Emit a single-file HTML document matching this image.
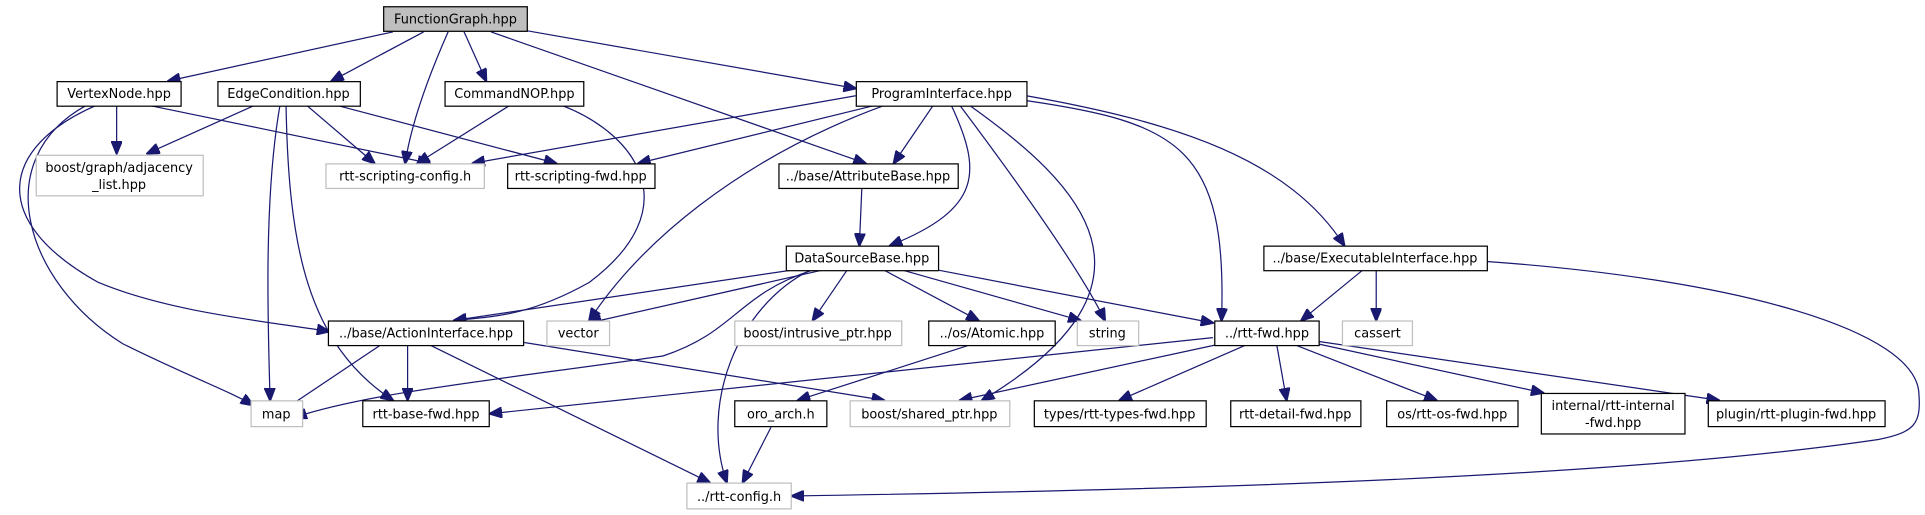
<!DOCTYPE html>
<html><head><meta charset="utf-8"><style>
html,body{margin:0;padding:0;background:#fff;}
svg{display:block;}
text{font-family:"DejaVu Sans","Liberation Sans",sans-serif;font-size:10.5px;fill:#000;}
.b{fill:#fff;stroke:#000;stroke-width:1;}
.g{fill:#fff;stroke:#bfbfbf;stroke-width:1;}
path{fill:none;stroke:#191970;stroke-width:1;}
</style></head><body>
<svg width="1925" height="515" viewBox="0 0 1568 419.5" xmlns="http://www.w3.org/2000/svg">
<defs><marker id="a" markerWidth="11" markerHeight="9" refX="10" refY="4.5" orient="auto" markerUnits="userSpaceOnUse"><polygon points="0,0 11,4.5 0,9" fill="#191970" stroke="#191970"/></marker></defs>
<g marker-end="url(#a)">
<path d="M320,26 L137,66"/>
<path d="M345,26 L270,66"/>
<path d="M365,26 C350,60 335,100 330,133"/>
<path d="M378,26 L396,66"/>
<path d="M400,26 L705,133"/>
<path d="M429,25 L697,72"/>
<path d="M95,86 L95,125"/>
<path d="M122,86 L350,133"/>
<path d="M78,86 C0,120 -10,180 80,230 C140,255 220,262 268,270"/>
<path d="M70,86 C-10,130 20,230 100,280 C150,305 190,320 206,330"/>
<path d="M207,86 L120,125"/>
<path d="M250,86 L305,133"/>
<path d="M275,86 L453,133"/>
<path d="M228,86 C215,160 218,260 220,326"/>
<path d="M233,86 C235,200 250,280 320,326"/>
<path d="M415,86 L340,133"/>
<path d="M458,86 C520,110 560,170 480,230 C430,258 400,258 370,261"/>
<path d="M697,78 L385,133"/>
<path d="M712,86 L520,133"/>
<path d="M760,86 L728,133"/>
<path d="M775,86 C800,140 800,170 725,200"/>
<path d="M720,86 C600,130 520,200 480,261"/>
<path d="M782,86 C830,150 880,220 900,261"/>
<path d="M790,86 C880,150 960,230 800,326"/>
<path d="M836,82 C960,100 1000,120 995,261"/>
<path d="M836,78 C960,100 1050,130 1095,200"/>
<path d="M702,153 L700,200"/>
<path d="M645,220 L370,261"/>
<path d="M670,220 L480,263"/>
<path d="M662,220 C600,240 600,270 540,290 C400,310 300,320 240,340"/>
<path d="M690,220 L662,261"/>
<path d="M720,220 L797,261"/>
<path d="M735,220 L880,261"/>
<path d="M764,220 L988,263"/>
<path d="M660,220 C600,250 570,330 592,393"/>
<path d="M1110,220 L1060,261"/>
<path d="M1121,220 L1121,261"/>
<path d="M1211,213 C1420,228 1560,270 1563,320 C1565,345 1560,352 1530,358 C1300,392 900,400 645,404"/>
<path d="M310,281 L222,340"/>
<path d="M332,281 L332,326"/>
<path d="M350,281 L578,393"/>
<path d="M427,279 L720,326"/>
<path d="M790,281 L650,326"/>
<path d="M628,348 L605,393"/>
<path d="M988,275 L399,337"/>
<path d="M990,281 L782,326"/>
<path d="M1015,281 L912,326"/>
<path d="M1040,281 L1048,326"/>
<path d="M1055,281 L1170,326"/>
<path d="M1073,280 L1257,320"/>
<path d="M1073,278 L1400,326"/>
</g>
<rect x="312.5" y="5.5" width="117" height="20" fill="#bfbfbf" stroke="#000"/><text x="371" y="19" text-anchor="middle">FunctionGraph.hpp</text>
<rect class="b" x="46.5" y="66.5" width="101" height="20"/><text x="97" y="80" text-anchor="middle">VertexNode.hpp</text>
<rect class="b" x="177.5" y="66.5" width="116" height="20"/><text x="235" y="80" text-anchor="middle">EdgeCondition.hpp</text>
<rect class="b" x="362.5" y="66.5" width="113" height="20"/><text x="419" y="80" text-anchor="middle">CommandNOP.hpp</text>
<rect class="b" x="697.5" y="66.5" width="139" height="20"/><text x="767" y="80" text-anchor="middle">ProgramInterface.hpp</text>
<rect class="g" x="29.5" y="126.5" width="136" height="33"/><text x="97" y="140" text-anchor="middle">boost/graph/adjacency</text><text x="97" y="154" text-anchor="middle">_list.hpp</text>
<rect class="g" x="265.5" y="133.5" width="129" height="20"/><text x="330" y="147" text-anchor="middle">rtt-scripting-config.h</text>
<rect class="b" x="413.5" y="133.5" width="120" height="20"/><text x="473" y="147" text-anchor="middle">rtt-scripting-fwd.hpp</text>
<rect class="b" x="634.5" y="133.5" width="146" height="20"/><text x="707" y="147" text-anchor="middle">../base/AttributeBase.hpp</text>
<rect class="b" x="640.5" y="200.5" width="124" height="20"/><text x="702" y="214" text-anchor="middle">DataSourceBase.hpp</text>
<rect class="b" x="1029.5" y="200.5" width="182" height="20"/><text x="1120" y="214" text-anchor="middle">../base/ExecutableInterface.hpp</text>
<rect class="b" x="267.5" y="261.5" width="159" height="20"/><text x="347" y="275" text-anchor="middle">../base/ActionInterface.hpp</text>
<rect class="g" x="445.5" y="261.5" width="51" height="20"/><text x="471" y="275" text-anchor="middle">vector</text>
<rect class="g" x="598.5" y="261.5" width="136" height="20"/><text x="666" y="275" text-anchor="middle">boost/intrusive_ptr.hpp</text>
<rect class="b" x="756.5" y="261.5" width="103" height="20"/><text x="808" y="275" text-anchor="middle">../os/Atomic.hpp</text>
<rect class="g" x="877.5" y="261.5" width="50" height="20"/><text x="902" y="275" text-anchor="middle">string</text>
<rect class="b" x="989.5" y="261.5" width="85" height="20"/><text x="1032" y="275" text-anchor="middle">../rtt-fwd.hpp</text>
<rect class="g" x="1093.5" y="261.5" width="57" height="20"/><text x="1122" y="275" text-anchor="middle">cassert</text>
<rect class="g" x="204.5" y="326.5" width="42" height="21"/><text x="225" y="341" text-anchor="middle">map</text>
<rect class="b" x="295.5" y="326.5" width="103" height="21"/><text x="347" y="341" text-anchor="middle">rtt-base-fwd.hpp</text>
<rect class="b" x="598.5" y="326.5" width="75" height="21"/><text x="636" y="341" text-anchor="middle">oro_arch.h</text>
<rect class="g" x="692.5" y="326.5" width="130" height="21"/><text x="757" y="341" text-anchor="middle">boost/shared_ptr.hpp</text>
<rect class="b" x="842.5" y="326.5" width="140" height="21"/><text x="912" y="341" text-anchor="middle">types/rtt-types-fwd.hpp</text>
<rect class="b" x="1002.5" y="326.5" width="106" height="21"/><text x="1055" y="341" text-anchor="middle">rtt-detail-fwd.hpp</text>
<rect class="b" x="1129.5" y="326.5" width="107" height="21"/><text x="1183" y="341" text-anchor="middle">os/rtt-os-fwd.hpp</text>
<rect class="b" x="1255.5" y="320.5" width="117" height="33"/><text x="1314" y="334" text-anchor="middle">internal/rtt-internal</text><text x="1314" y="348" text-anchor="middle">-fwd.hpp</text>
<rect class="b" x="1391.5" y="326.5" width="144" height="21"/><text x="1463" y="341" text-anchor="middle">plugin/rtt-plugin-fwd.hpp</text>
<rect class="g" x="559.5" y="393.5" width="85" height="21"/><text x="602" y="408" text-anchor="middle">../rtt-config.h</text>
</svg>
</body></html>
